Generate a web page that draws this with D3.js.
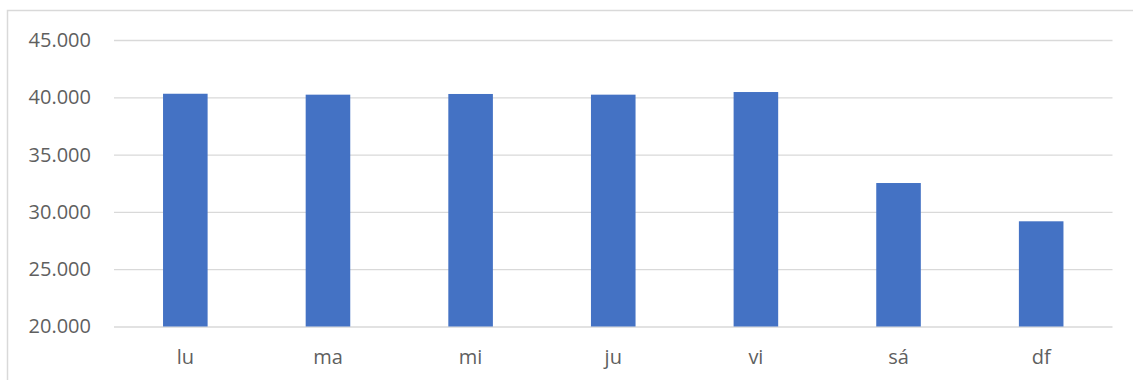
<!DOCTYPE html>
<html>
<head>
<meta charset="utf-8">
<script src="https://cdn.jsdelivr.net/npm/d3@7"></script>
<style>
  html, body { margin: 0; padding: 0; background: #fff; }
  svg { display: block; }
</style>
</head>
<body>
<svg id="chart" width="1133" height="380"></svg>
<script>
// Weekday totals
const days = ["lu", "ma", "mi", "ju", "vi", "sá", "df"];
const totals = [40310, 40230, 40290, 40230, 40460, 32520, 29180];
const yTicks = [20000, 25000, 30000, 35000, 40000, 45000];

const W = 1133, H = 380;
const plot = { left: 114, right: 1112.5, top: 40, bottom: 326.5 };

const svg = d3.select("#chart");

// Chart-area frame (left and top edges visible)
svg.append("path")
  .attr("d", `M7.5,${H} V10.5 H${W}`)
  .attr("fill", "none")
  .attr("stroke", "#d9d9d9")
  .attr("stroke-width", 1.5);

const x = d3.scaleBand()
  .domain(days)
  .range([plot.left, plot.right])
  .paddingInner(0.6875)
  .paddingOuter(0.34375);

const y = d3.scaleLinear()
  .domain([20000, 45000])
  .range([plot.bottom, plot.top]);

const fmt = v => d3.format(",")(v).replace(/,/g, ".");

// Horizontal gridlines with value labels
const yAxis = svg.append("g")
  .attr("transform", `translate(${plot.left},0)`)
  .call(d3.axisLeft(y)
    .tickValues(yTicks)
    .tickSize(-(plot.right - plot.left))
    .tickPadding(23)
    .tickFormat(fmt));
yAxis.select(".domain").remove();
yAxis.selectAll(".tick line")
  .attr("stroke", "#d9d9d9")
  .attr("stroke-width", 1.3);
yAxis.selectAll(".tick text")
  .attr("fill", "#5f5f5f")
  .attr("font-family", "'Open Sans', sans-serif")
  .attr("font-size", 20);

// Bars
svg.append("g")
  .selectAll("rect")
  .data(days.map((d, i) => ({ day: d, value: totals[i] })))
  .join("rect")
  .attr("x", d => x(d.day))
  .attr("width", x.bandwidth())
  .attr("y", d => y(d.value))
  .attr("height", d => y(20000) - y(d.value))
  .attr("fill", "#4472c4");

// Category labels
const xAxis = svg.append("g")
  .attr("transform", `translate(0,${plot.bottom})`)
  .call(d3.axisBottom(x).tickSize(0).tickPadding(23));
xAxis.select(".domain").remove();
xAxis.selectAll(".tick text")
  .attr("fill", "#5f5f5f")
  .attr("font-family", "'Open Sans', sans-serif")
  .attr("font-size", 20);
</script>
</body>
</html>
